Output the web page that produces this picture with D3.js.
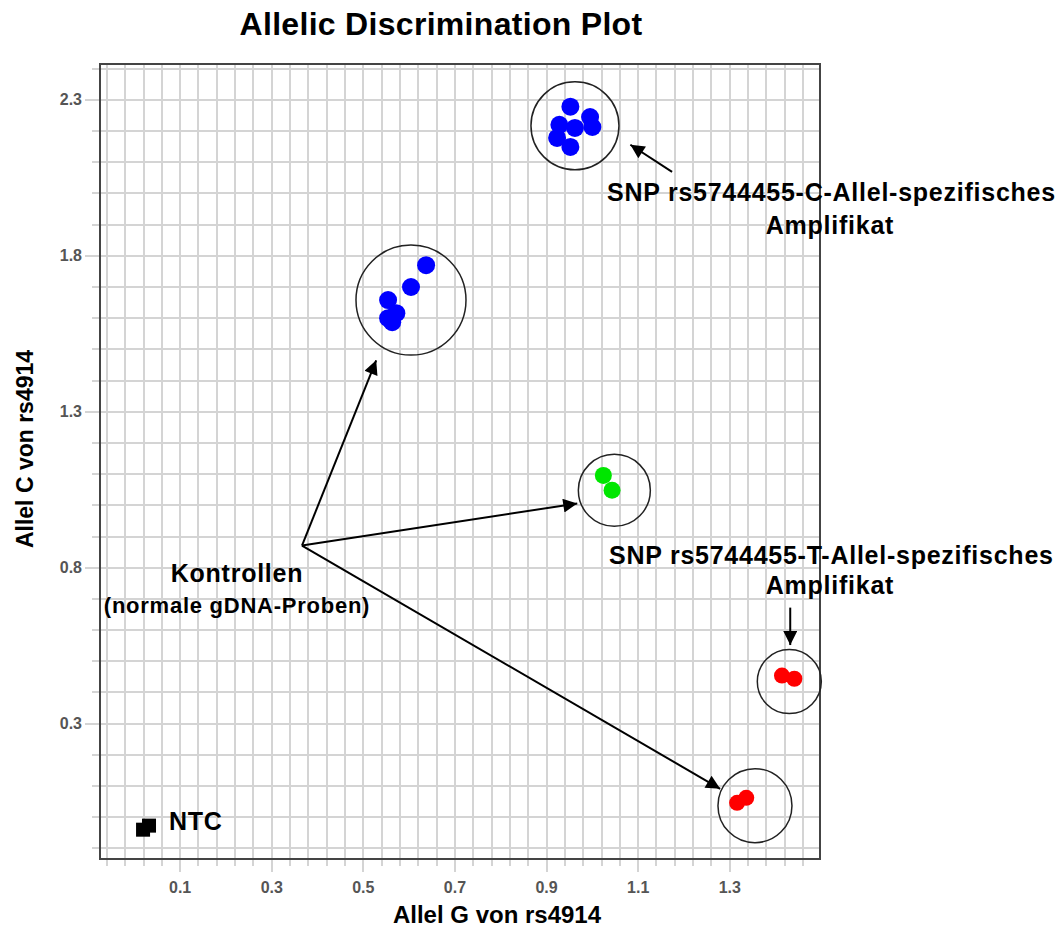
<!DOCTYPE html>
<html>
<head>
<meta charset="utf-8">
<script src="https://cdn.jsdelivr.net/npm/d3@7"></script>
<style>
  body { margin: 0; background: #fff; }
  text { font-family: "Liberation Sans", Arial, sans-serif; }
</style>
</head>
<body>
<div id="chart"></div>
<script>
// data (allele G signal, allele C signal)
blueX = [0.952, 0.995, 1.000, 0.928, 0.923, 0.952, 0.962, 0.637, 0.604, 0.554, 0.572, 0.554, 0.563]
blueY = [2.278, 2.245, 2.213, 2.220, 2.178, 2.149, 2.210, 1.770, 1.700, 1.658, 1.616, 1.600, 1.587]
greenX = [1.024, 1.043]
greenY = [1.096, 1.048]
redX = [1.414, 1.441, 1.316, 1.336]
redY = [0.454, 0.444, 0.046, 0.062]
ntcX = [0.019, 0.032]
ntcY = [-0.040, -0.027]
xTickLabels = [0.1, 0.3, 0.5, 0.7, 0.9, 1.1, 1.3]
yTickLabels = [0.3, 0.8, 1.3, 1.8, 2.3]
// cluster rings: centre in data units, radius in px
ringX = [0.962, 0.604, 1.048, 1.430, 1.355]
ringY = [2.217, 1.658, 1.048, 0.435, 0.037]
ringR = [44, 55, 36, 32, 37]
// arrows: [x1, y1, x2, y2] in data units, head at the second point
arrows = [
  [0.366, 0.871, 0.528, 1.465],
  [0.366, 0.871, 0.967, 1.006],
  [0.366, 0.871, 1.279, 0.091],
  [1.174, 2.069, 1.083, 2.156],
  [1.432, 0.672, 1.432, 0.552]
]

width = 1064
height = 928
margin = ({top: 64, right: 244, bottom: 69, left: 100})

x = d3.scaleLinear()
  .domain([-0.075, 1.497])
  .range([margin.left, width - margin.right])
y = d3.scaleLinear()
  .domain([-0.134, 2.415])
  .range([height - margin.bottom, margin.top])

svg = d3.select("#chart").append("svg")
  .attr("width", width)
  .attr("height", height)

svg.append("defs").append("marker")
  .attr("id", "head")
  .attr("viewBox", "0 0 10 10")
  .attr("refX", 10).attr("refY", 5)
  .attr("markerWidth", 18).attr("markerHeight", 14)
  .attr("markerUnits", "userSpaceOnUse")
  .attr("orient", "auto")
  .append("path").attr("d", "M0,0 L10,5 L0,10 Z").attr("fill", "#000")

x0 = margin.left, x1 = width - margin.right
y0 = height - margin.bottom, y1 = margin.top

// grid: x every 0.04 from -0.06, y every 0.1 from -0.1
xGrid = d3.range(0, 39).map(i => +(-0.06 + i * 0.04).toFixed(2))
yGrid = d3.range(0, 26).map(i => +(-0.1 + i * 0.1).toFixed(2))
isMajorX = v => xTickLabels.some(t => Math.abs(t - v) < 1e-6)
isMajorY = v => yTickLabels.some(t => Math.abs(t - v) < 1e-6)

grid = svg.append("g").attr("stroke", "#d4d4d4").attr("stroke-width", 2)
grid.selectAll(".vx").data(xGrid).enter().append("line")
  .attr("x1", d => Math.round(x(d))).attr("x2", d => Math.round(x(d)))
  .attr("y1", y1).attr("y2", d => y0 + (isMajorX(d) ? 13 : 7))
grid.selectAll(".hy").data(yGrid).enter().append("line")
  .attr("y1", d => Math.round(y(d))).attr("y2", d => Math.round(y(d)))
  .attr("x2", x1).attr("x1", d => x0 - (isMajorY(d) ? 15 : 8))

// frame
svg.append("rect")
  .attr("x", x0).attr("y", y1)
  .attr("width", x1 - x0).attr("height", y0 - y1)
  .attr("fill", "none").attr("stroke", "#444").attr("stroke-width", 2)

// tick labels
svg.append("g").selectAll("text").data(xTickLabels).enter().append("text")
  .attr("x", d => x(d)).attr("y", y0 + 34)
  .attr("text-anchor", "middle")
  .style("font-size", "16px").style("font-weight", "bold").attr("fill", "#555")
  .text(d => d3.format(".1f")(d))
svg.append("g").selectAll("text").data(yTickLabels).enter().append("text")
  .attr("x", x0 - 18).attr("y", d => y(d)).attr("dy", "0.35em")
  .attr("text-anchor", "end")
  .style("font-size", "16px").style("font-weight", "bold").attr("fill", "#555")
  .text(d => d3.format(".1f")(d))

// titles
svg.append("text").attr("x", 441).attr("y", 35).attr("text-anchor", "middle")
  .style("font-size", "32px").style("font-weight", "bold").style("letter-spacing", "0.3px")
  .text("Allelic Discrimination Plot")
svg.append("text").attr("x", 497).attr("y", 923).attr("text-anchor", "middle")
  .style("font-size", "24px").style("font-weight", "bold").text("Allel G von rs4914")
svg.append("text").attr("transform", "translate(33,449) rotate(-90)").attr("text-anchor", "middle")
  .style("font-size", "23px").style("font-weight", "bold").text("Allel C von rs4914")

// rings
rings = d3.range(ringX.length).map(i => ({cx: ringX[i], cy: ringY[i], r: ringR[i]}))
svg.append("g").selectAll("circle").data(rings).enter().append("circle")
  .attr("cx", d => x(d.cx)).attr("cy", d => y(d.cy)).attr("r", d => d.r)
  .attr("fill", "none").attr("stroke", "#222").attr("stroke-width", 1.5)

// points
function dots(xs, ys, color, r) {
  svg.append("g").selectAll("circle").data(xs.map((v, i) => [v, ys[i]])).enter().append("circle")
    .attr("cx", d => x(d[0])).attr("cy", d => y(d[1])).attr("r", r).attr("fill", color)
}
dots(blueX, blueY, "#0000ff", 9)
dots(greenX, greenY, "#00e600", 8.5)
dots(redX, redY, "#ff0000", 8)
svg.append("g").selectAll("rect").data(ntcX.map((v, i) => [v, ntcY[i]])).enter().append("rect")
  .attr("x", d => x(d[0]) - 7).attr("y", d => y(d[1]) - 7)
  .attr("width", 14).attr("height", 14).attr("fill", "#000")

// arrows
svg.append("g").selectAll("line").data(arrows).enter().append("line")
  .attr("x1", d => x(d[0])).attr("y1", d => y(d[1]))
  .attr("x2", d => x(d[2])).attr("y2", d => y(d[3]))
  .attr("stroke", "#000").attr("stroke-width", 2)
  .attr("marker-end", "url(#head)")

// annotation text
ann = [
  {t: "NTC", x: 169, y: 830, a: "start", s: 25},
  {t: "SNP rs5744455-C-Allel-spezifisches", x: 607, y: 201, a: "start", s: 25},
  {t: "Amplifikat", x: 830, y: 234, a: "middle", s: 25},
  {t: "SNP rs5744455-T-Allel-spezifisches", x: 609, y: 564, a: "start", s: 25},
  {t: "Amplifikat", x: 830, y: 594, a: "middle", s: 25},
  {t: "Kontrollen", x: 237, y: 582, a: "middle", s: 25},
  {t: "(normale gDNA-Proben)", x: 237, y: 613, a: "middle", s: 22}
]
svg.append("g").selectAll("text").data(ann).enter().append("text")
  .attr("x", d => d.x).attr("y", d => d.y).attr("text-anchor", d => d.a)
  .style("font-size", d => d.s + "px").style("font-weight", "bold")
  .style("letter-spacing", "0.75px")
  .text(d => d.t)
</script>
</body>
</html>
